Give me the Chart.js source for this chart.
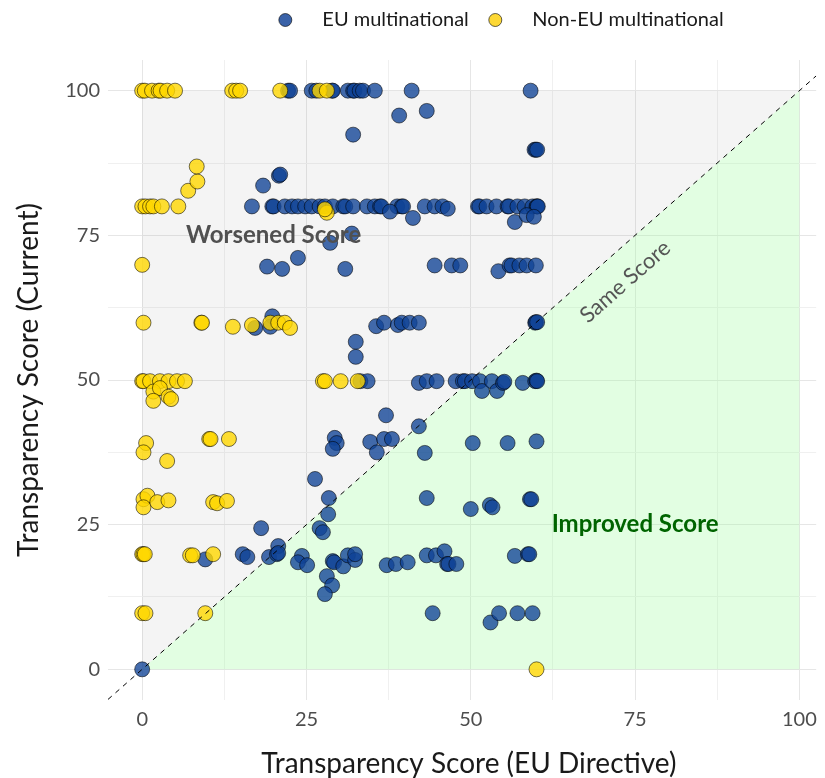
<!DOCTYPE html>
<html>
<head>
<meta charset="utf-8">
<script src="https://cdn.jsdelivr.net/npm/chart.js@4/dist/chart.umd.min.js"></script>
<style>
    html, body { margin: 0; padding: 0; background: #ffffff; }
    #chart-wrap { width: 825px; height: 778px; position: relative; }
</style>
</head>
<body>
<div id="chart-wrap"><canvas id="scoreChart"></canvas></div>
<script>
// Transparency scores: EU directive (x) vs current (y), ten companies per line
const euDirective = [
    22.2, 22.5, 25.8, 26.5, 28.9, 29, 31.3, 32.1, 32.3, 33.1,
    33.6, 35.4, 41, 59.1, 39.1, 43.3, 32.1, 59.7, 59.9, 60.1,
    18.4, 20.8, 21, 16.7, 19.8, 20, 21.7, 22.8, 23.7, 24.8,
    25.8, 27, 27.8, 29, 30.6, 30.9, 32.1, 34.2, 35.4, 36.2,
    36.4, 38.8, 39.5, 39.7, 43, 44.5, 45.7, 46.5, 51.1, 51.3,
    52.4, 53.9, 55.6, 55.8, 57.1, 58.2, 59.4, 60, 60.1, 60.2,
    37.7, 41.2, 56.7, 58.5, 59.6, 28.6, 31.9, 19, 21.3, 23.7,
    30.9, 44.5, 47.1, 48.4, 54.2, 55.9, 56.2, 57.4, 58.5, 59.9,
    17.2, 19.8, 19.5, 35.6, 36.8, 38.9, 39.5, 40.7, 42.1, 59.8,
    59.9, 60.1, 32.5, 32.5, 33.2, 34.3, 42.1, 43.3, 44.8, 47.7,
    48.8, 49.1, 50.2, 51.4, 51.7, 53.2, 54, 54.9, 55.1, 57.9,
    59.8, 60, 60.1, 37.1, 42.1, 29.3, 29.6, 29, 34.7, 35.7,
    36.8, 38, 43, 50.3, 55.6, 60, 26.3, 28.4, 28.3, 43.3,
    50, 52.9, 53.3, 59, 59.2, 27, 27.5, 18.1, 20.7, 9.6,
    15.3, 16, 19.3, 20.5, 20.7, 24.3, 23.7, 25.1, 29, 29.2,
    30.6, 31.3, 32.4, 32.4, 37.2, 38.6, 40.4, 43.3, 44.7, 46,
    46.4, 46.6, 47.8, 56.7, 58.7, 58.9, 28.1, 28.9, 27.8, 44.2,
    53, 54.3, 57.1, 59.4, 0
];
const euCurrent = [
    100, 100, 100, 100, 100, 100, 100, 100, 100, 100,
    100, 100, 100, 100, 95.7, 96.5, 92.4, 89.8, 89.8, 89.8,
    83.6, 85.3, 85.5, 80, 80, 80, 80, 80, 80, 80,
    80, 80, 80, 80, 80, 80, 80, 80, 80, 80,
    80, 80, 80, 80, 80, 80, 80, 79.6, 80, 80,
    80, 80, 80, 80, 80, 80, 80, 80, 80, 80,
    79.1, 78, 77.3, 78.5, 78.2, 73.7, 75.3, 69.6, 69.2, 71.1,
    69.2, 69.8, 69.8, 69.8, 68.8, 69.8, 69.8, 69.8, 69.8, 69.8,
    59, 61, 59.2, 59.3, 59.9, 59.5, 59.9, 59.9, 59.9, 59.9,
    60, 60, 56.6, 54, 49.8, 49.8, 49.5, 49.8, 49.8, 49.8,
    49.8, 49.8, 49.8, 49.8, 48.1, 49.8, 48.1, 49.5, 49.7, 49.5,
    49.8, 49.9, 49.8, 43.9, 42, 40, 39.1, 38.1, 39.3, 37.5,
    39.8, 39.8, 37.4, 39.1, 39.1, 39.4, 32.9, 29.6, 26.8, 29.6,
    27.7, 28.4, 28, 29.4, 29.4, 24.4, 23.7, 24.4, 21.3, 19,
    19.9, 19.4, 19.4, 19.9, 20.1, 19.6, 18.5, 18, 18.7, 18.5,
    17.8, 19.7, 18.9, 19.9, 18, 18.2, 18.5, 19.7, 19.7, 20.4,
    18.2, 18.2, 18.2, 19.6, 19.9, 19.9, 16.1, 14.5, 13, 9.7,
    8.1, 9.7, 9.7, 9.7, 0
];
const nonEuDirective = [
    0, 0.4, 1.5, 2.5, 2.8, 3.8, 5, 13.7, 14.3, 14.9,
    21, 27, 28.1, 0, 0.5, 1.2, 1.7, 3, 5.5, 7,
    8.4, 8.3, 28.1, 27.8, 0, 0.2, 9, 9.1, 13.8, 16.7,
    19.5, 20.7, 21.7, 22.5, 0, 0.2, 1.2, 2.7, 4, 5.3,
    6.5, 1.7, 2.7, 4, 4.4, 1.7, 27.5, 27.8, 30.2, 32.8,
    10.2, 10.4, 13.2, 0.6, 0.2, 3.8, 0.2, 0.8, 0.2, 2.3,
    4, 10.8, 11.4, 12.9, 0, 0.2, 0.4, 7.3, 7.7, 10.8,
    0, 0.5, 9.6, 60
];
const nonEuCurrent = [
    100, 100, 100, 100, 100, 100, 100, 100, 100, 100,
    100, 100, 100, 80, 80, 80, 80, 80, 80, 82.7,
    84.3, 86.9, 78.9, 79.5, 69.9, 59.9, 59.9, 59.9, 59.2, 59.5,
    59.9, 59.9, 59.9, 59, 49.8, 49.8, 49.8, 49.8, 49.8, 49.8,
    49.8, 48, 48.6, 47.1, 46.7, 46.4, 49.8, 49.8, 49.8, 49.8,
    39.8, 39.8, 39.8, 39.1, 37.5, 36, 29.4, 30, 28, 28.9,
    29.2, 28.9, 28.7, 29.1, 19.9, 19.9, 19.9, 19.7, 19.7, 19.9,
    9.7, 9.7, 9.7, 0
];
const gridTicks = [0, 12.5, 25, 37.5, 50, 62.5, 75, 87.5, 100];
const seriesNames = ['EU multinational', 'Non-EU multinational'];

const FONT = 'Lato, "Open Sans", sans-serif';

function toPoints(xs, ys) {
    if (xs.length !== ys.length) console.warn('length mismatch', xs.length, ys.length);
    return xs.map((x, i) => ({ x: x, y: ys[i] }));
}

function clipToArea(chart) {
    const { ctx, chartArea } = chart;
    ctx.beginPath();
    ctx.rect(chartArea.left, chartArea.top, chartArea.right - chartArea.left, chartArea.bottom - chartArea.top);
    ctx.clip();
}

// shaded regions, diagonal and annotations
const regionPlugin = {
    id: 'regions',
    beforeDatasetsDraw(chart) {
        const { ctx } = chart;
        const px = v => chart.scales.x.getPixelForValue(v);
        const py = v => chart.scales.y.getPixelForValue(v);
        ctx.save();
        clipToArea(chart);
        // worsened (above the diagonal)
        ctx.fillStyle = 'rgba(128, 128, 128, 0.09)';
        ctx.beginPath();
        ctx.moveTo(px(0), py(0));
        ctx.lineTo(px(0), py(100));
        ctx.lineTo(px(100), py(100));
        ctx.closePath();
        ctx.fill();
        // improved (below the diagonal)
        ctx.fillStyle = 'rgba(150, 250, 150, 0.28)';
        ctx.beginPath();
        ctx.moveTo(px(0), py(0));
        ctx.lineTo(px(100), py(0));
        ctx.lineTo(px(100), py(100));
        ctx.closePath();
        ctx.fill();
        ctx.restore();
    },
    afterDatasetsDraw(chart) {
        const { ctx } = chart;
        const sx = chart.scales.x;
        const px = v => sx.getPixelForValue(v);
        const py = v => chart.scales.y.getPixelForValue(v);
        ctx.save();
        clipToArea(chart);
        // same score line
        ctx.strokeStyle = '#000000';
        ctx.lineWidth = 1;
        ctx.setLineDash([5, 5]);
        ctx.beginPath();
        ctx.moveTo(px(sx.min), py(sx.min));
        ctx.lineTo(px(sx.max), py(sx.max));
        ctx.stroke();
        ctx.setLineDash([]);
        ctx.restore();

        ctx.save();
        ctx.textAlign = 'center';
        ctx.textBaseline = 'middle';
        ctx.font = 'bold 24px ' + FONT;
        ctx.fillStyle = '#505050';
        ctx.fillText('Worsened Score', px(20), py(75));
        ctx.fillStyle = '#006400';
        ctx.fillText('Improved Score', px(75), py(25));
        // rotated label along the diagonal
        const angle = Math.atan2(py(100) - py(0), px(100) - px(0));
        ctx.translate(px(73.5), py(67));
        ctx.rotate(angle);
        ctx.font = '22px ' + FONT;
        ctx.fillStyle = '#555555';
        ctx.fillText('Same Score', 0, 0);
        ctx.restore();
    }
};

// top legend with a wide gap between marker and text
const legendPlugin = {
    id: 'topLegend',
    afterDraw(chart) {
        const { ctx } = chart;
        const sets = chart.data.datasets;
        ctx.save();
        ctx.font = '20px ' + FONT;
        ctx.textBaseline = 'middle';
        const r = 6.5, gap = 37, spacing = 13.5;
        const widths = sets.map(ds => gap + ctx.measureText(ds.label).width);
        const total = widths.reduce((a, b) => a + b, 0) + r + spacing * (sets.length - 1) + r;
        let x = 498 - total / 2 + r;
        const y = 20;
        sets.forEach((ds, i) => {
            ctx.beginPath();
            ctx.arc(x, y, r, 0, Math.PI * 2);
            ctx.fillStyle = ds.legendColor;
            ctx.fill();
            ctx.lineWidth = 1;
            ctx.strokeStyle = 'rgba(0,0,0,0.6)';
            ctx.stroke();
            ctx.fillStyle = '#1a1a1a';
            ctx.fillText(ds.label, x + gap, y);
            x += widths[i] + spacing + r * 2;
        });
        ctx.restore();
    }
};

const axisTicks = {
    padding: 8,
    color: '#4d4d4d',
    font: { family: FONT, size: 20 },
    callback: v => (v % 25 === 0 ? v : '')
};
const axisGrid = {
    drawTicks: false,
    color: c => (c.tick && c.tick.value % 25 === 0) ? '#e6e6e6' : '#f0f0f0'
};

const ctx = document.getElementById('scoreChart').getContext('2d');
new Chart(ctx, {
    type: 'scatter',
    data: {
        datasets: [
            {
                label: seriesNames[0],
                data: toPoints(euDirective, euCurrent),
                backgroundColor: 'rgba(16, 66, 150, 0.78)',
                borderColor: 'rgba(0, 0, 0, 0.55)',
                borderWidth: 1,
                pointRadius: 7.5,
                legendColor: '#3a62a8',
                order: 2
            },
            {
                label: seriesNames[1],
                data: toPoints(nonEuDirective, nonEuCurrent),
                backgroundColor: 'rgba(255, 215, 0, 0.8)',
                borderColor: 'rgba(0, 0, 0, 0.55)',
                borderWidth: 1,
                pointRadius: 7.5,
                legendColor: '#fdd835',
                order: 1
            }
        ]
    },
    options: {
        responsive: true,
        maintainAspectRatio: false,
        devicePixelRatio: 1,
        animation: false,
        layout: { padding: { top: 60, right: 3, left: 0, bottom: 0 } },
        plugins: {
            legend: { display: false },
            tooltip: { enabled: false }
        },
        scales: {
            x: {
                type: 'linear',
                min: -5.2,
                max: 102.55,
                afterBuildTicks: scale => { scale.ticks = gridTicks.map(v => ({ value: v })); },
                afterFit: scale => { scale.height = 78; },
                border: { display: false },
                grid: axisGrid,
                ticks: axisTicks,
                title: {
                    display: true,
                    text: '\u00a0\u00a0Transparency Score (EU Directive)',
                    color: '#1a1a1a',
                    font: { family: FONT, size: 28 },
                    padding: { top: 0, bottom: -3 }
                }
            },
            y: {
                type: 'linear',
                min: -5.3,
                max: 105.3,
                afterBuildTicks: scale => { scale.ticks = gridTicks.map(v => ({ value: v })); },
                afterFit: scale => { scale.width = 108; },
                border: { display: false },
                grid: axisGrid,
                ticks: axisTicks,
                title: {
                    display: true,
                    text: 'Transparency Score (Current)',
                    color: '#1a1a1a',
                    font: { family: FONT, size: 28 },
                    padding: { top: 12, bottom: 0 }
                }
            }
        }
    },
    plugins: [regionPlugin, legendPlugin]
});
</script>
</body>
</html>
